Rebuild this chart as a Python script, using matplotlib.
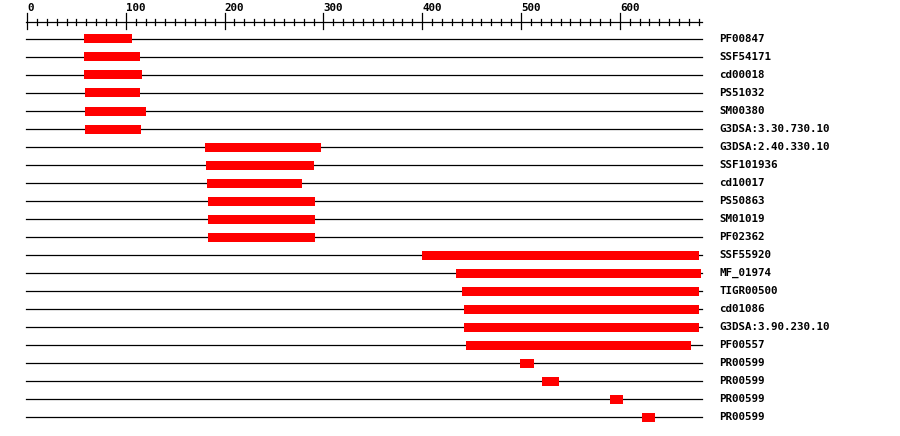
import matplotlib.pyplot as plt

# domain hits: name, start, end (residue positions)
names = ["PF00847", "SSF54171", "cd00018", "PS51032", "SM00380", "G3DSA:3.30.730.10",
         "G3DSA:2.40.330.10", "SSF101936", "cd10017", "PS50863", "SM01019", "PF02362",
         "SSF55920", "MF_01974", "TIGR00500", "cd01086", "G3DSA:3.90.230.10", "PF00557",
         "PR00599", "PR00599", "PR00599", "PR00599"]
starts = [58, 58, 58, 59, 59, 59,
          180, 181, 182, 183, 183, 183,
          400, 434, 440, 442, 442, 444,
          499, 521, 590, 622]
ends = [106, 114, 116, 114, 120, 115,
        298, 290, 278, 292, 292, 291,
        680, 682, 680, 680, 680, 672,
        513, 538, 603, 636]
seq_len = 683
ruler_max = 680

# pixel mapping: x_px = 27 + 0.988 * residue
px_per_res = 0.988
x0 = 27.0
W, H = 900, 436

fig = plt.figure(figsize=(W / 100, H / 100), dpi=100)
ax = fig.add_axes([0, 0, 1, 1])
ax.set_xlim(-x0 / px_per_res, (W - x0) / px_per_res)
ax.set_ylim(H, 0)
ax.axis("off")

font = dict(family="DejaVu Sans Mono", weight="bold", size=7.8)
lw = 0.9

# ruler
ruler_y = 22
ax.plot([-1, ruler_max + 3], [ruler_y, ruler_y], color="black", lw=lw)
for v in range(0, ruler_max + 1, 10):
    if v % 100 == 0:
        ax.plot([v, v], [13, 29], color="black", lw=lw)
        ax.text(v, 8, str(v), ha="left", va="center", **font)
    else:
        ax.plot([v, v], [19, 25], color="black", lw=lw)

# tracks
row0, step = 39, 18
for i, (name, s, e) in enumerate(zip(names, starts, ends)):
    y = row0 + i * step
    ax.plot([-1, seq_len], [y, y], color="black", lw=lw, zorder=1)
    ax.add_patch(plt.Rectangle((s, y - 4.5), e - s, 9, color="#ff0000", lw=0, zorder=2))
    ax.text((719 - x0) / px_per_res, y, name, ha="left", va="center", **font)

fig.savefig("out.png", dpi=100)
